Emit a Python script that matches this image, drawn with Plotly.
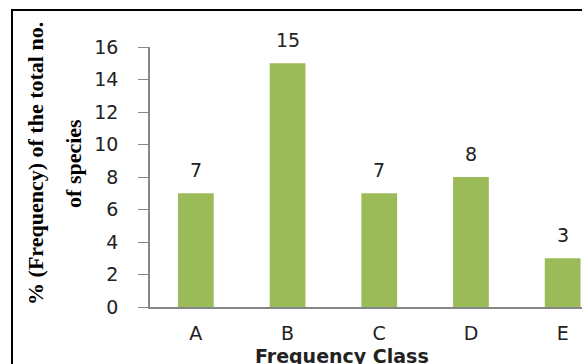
import plotly.graph_objects as go

# Frequency classes and the share of species in each
classes = ["A", "B", "C", "D", "E"]
percent_species = [7, 15, 7, 8, 3]
y_ticks = [0, 2, 4, 6, 8, 10, 12, 14, 16]

bar_color = "#9BBB59"
axis_color = "#868686"
text_color = "#222222"
sans = "DejaVu Sans"
serif = "Liberation Serif"

fig = go.Figure()
fig.add_trace(go.Bar(
    x=classes,
    y=percent_species,
    marker=dict(color=bar_color, line=dict(width=0)),
    showlegend=False,
))

# value labels above each bar
for c, v in zip(classes, percent_species):
    fig.add_annotation(
        x=c, y=v, text=str(v), showarrow=False,
        yanchor="bottom", yshift=10,
        font=dict(family=sans, size=19, color=text_color),
    )

# two-line vertical axis title
fig.add_annotation(
    xref="paper", yref="paper", x=-0.264, y=0.554,
    text="<b>% (Frequency) of the total no.</b>", textangle=-90,
    showarrow=False, xanchor="center", yanchor="middle",
    font=dict(family=serif, size=22, color="#000000"),
)
fig.add_annotation(
    xref="paper", yref="paper", x=-0.176, y=0.554,
    text="<b>of species</b>", textangle=-90,
    showarrow=False, xanchor="center", yanchor="middle",
    font=dict(family=serif, size=22, color="#000000"),
)

# horizontal axis title
fig.add_annotation(
    x=1.59, xref="x", yref="paper", y=-0.19,
    text="<b>Frequency Class</b>", showarrow=False,
    xanchor="center", yanchor="middle",
    font=dict(family=sans, size=19, color=text_color),
)

# chart frame
fig.add_shape(
    type="rect", xref="paper", yref="paper",
    x0=(12 - 150) / 432, x1=1.2, y0=-0.4, y1=(307 - 10) / 260,
    line=dict(color="#000000", width=2), fillcolor="rgba(0,0,0,0)",
    layer="above",
)

fig.update_layout(
    width=582, height=364,
    margin=dict(l=150, r=0, t=47, b=57),
    paper_bgcolor="white", plot_bgcolor="white",
    bargap=0.61,
    xaxis=dict(
        range=[-0.5, 4.211],
        showline=True, linecolor=axis_color, linewidth=1.5,
        ticks="", showgrid=False, zeroline=False,
        tickfont=dict(family=sans, size=19, color=text_color),
        ticklabelstandoff=8,
    ),
    yaxis=dict(
        range=[0, 16], tickvals=y_ticks,
        showline=True, linecolor=axis_color, linewidth=1.5,
        ticks="outside", ticklen=10, tickcolor=axis_color, tickwidth=1,
        showgrid=False, zeroline=False,
        tickfont=dict(family=sans, size=19, color=text_color),
        ticklabelstandoff=16,
    ),
)

fig.write_html("out.html")
